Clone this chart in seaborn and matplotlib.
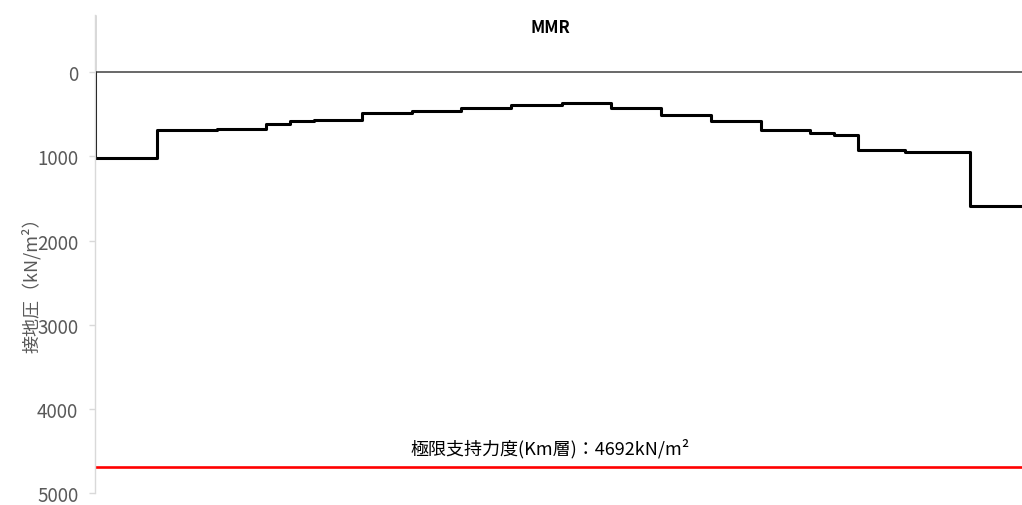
import matplotlib
matplotlib.use("Agg")
import matplotlib.pyplot as plt
import seaborn as sns
import pandas as pd

# Segment boundaries along the foundation (m) and contact pressure per segment (kN/m2)
boundaries = [0.0, 5.0, 9.84, 13.79, 15.73, 17.66, 21.53, 25.56, 29.52, 33.55,
              37.66, 41.61, 45.65, 49.68, 53.71, 57.66, 59.6, 61.53, 65.32, 70.56, 74.76]
pressure = [1020, 690, 680, 610, 582, 562, 487, 455, 424, 392,
            368, 424, 511, 574, 681, 724, 744, 926, 950, 1588]
ultimate_capacity = 4692
title = "MMR"
capacity_label = "極限支持力度(Km層)：4692kN/m²"
ylabel = "接地圧（kN/m²）"
yticks = [0, 1000, 2000, 3000, 4000, 5000]

sns.set_theme(style="white")
plt.rcParams["font.family"] = ["Noto Sans CJK JP", "DejaVu Sans"]

fig = plt.figure(figsize=(10.22, 5.06), dpi=100)
ax = fig.add_axes([95 / 1022, 12 / 506, 927 / 1022, 478 / 506])

y_top = -680
y_bottom = 5000

# step profile: starts at zero pressure at the left edge, then steps-post through segments
xs = [boundaries[0]] + boundaries
ys = [0] + pressure + [pressure[-1]]
df = pd.DataFrame({"x": xs, "y": ys})
sns.lineplot(data=df, x="x", y="y", sort=False, estimator=None,
             drawstyle="steps-post", color="black", linewidth=2.2, ax=ax)

# zero reference line and left marker above zero
ax.axhline(0, color="#404040", linewidth=1.1, zorder=1)
ax.plot([boundaries[0], boundaries[0]], [y_top, 0], color="#404040", linewidth=1.0, zorder=1)

# ultimate bearing capacity line
cap = pd.DataFrame({"x": [boundaries[0], boundaries[-1]],
                    "y": [ultimate_capacity, ultimate_capacity]})
sns.lineplot(data=cap, x="x", y="y", color="#ff0000", linewidth=1.9, ax=ax)
ax.text(0.491, 0.02 + (y_bottom - ultimate_capacity) / (y_bottom - y_top), capacity_label,
        transform=ax.transAxes, ha="center", va="bottom", fontsize=13, color="black")

ax.set_xlim(boundaries[0], boundaries[-1])
ax.set_ylim(y_bottom, y_top)
ax.set_yticks(yticks)
ax.set_yticklabels([str(t) for t in yticks])
ax.set_xticks([])
ax.set_xlabel("")
ax.set_ylabel(ylabel, fontsize=13, color="#595959")
ax.yaxis.set_label_coords(-0.058, 0.447)

for s in ["top", "right", "bottom"]:
    ax.spines[s].set_visible(False)
ax.spines["left"].set_color("#d9d9d9")
ax.spines["left"].set_linewidth(1.0)
ax.tick_params(axis="y", which="major", left=True, length=4, width=1.0, color="#d9d9d9",
               labelcolor="#595959", labelsize=13.5, pad=8)

fig.text(550 / 1022, 1 - 28 / 506, title, ha="center", va="center", fontsize=12,
         color="black", fontweight="bold")

fig.savefig("out.png", dpi=100)
